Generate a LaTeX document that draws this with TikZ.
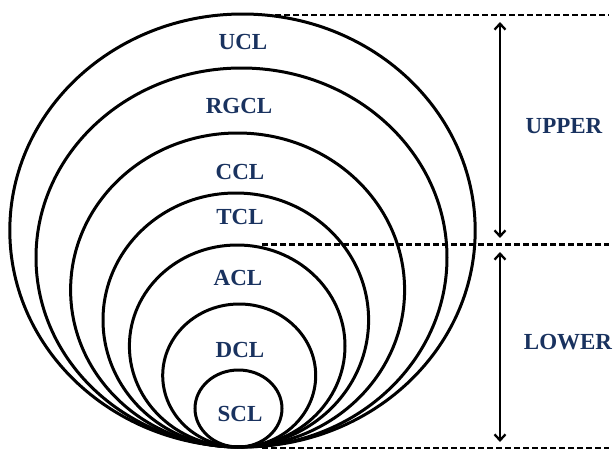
\documentclass[tikz,border=0pt]{standalone}
\usepackage{fontspec}
\setmainfont{Liberation Serif}
\usetikzlibrary{arrows.meta}
\definecolor{navy}{RGB}{25,50,95}
\tikzset{
  layer/.style={draw=black, line width=3pt},
  lbl/.style={text=navy, font=\fontsize{23}{27}\selectfont\bfseries, inner sep=0pt},
  guide/.style={draw=black, line width=2.3pt, dash pattern=on 6pt off 3pt},
  span/.style={draw=black, line width=2.3pt, {Straight Barb[length=6pt,width=11pt,line width=2.3pt]}-{Straight Barb[length=6pt,width=11pt,line width=2.3pt]}}
}
\begin{document}
\begin{tikzpicture}[x=1pt,y=-1pt]
\useasboundingbox (0,0) rectangle (614,450);
% nested layers, all tangent at the bottom
\draw[layer] (242.5,230.5) ellipse [x radius=232.7pt, y radius=216.5pt];
\draw[layer] (241.5,257.5) ellipse [x radius=205.5pt, y radius=189.5pt];
\draw[layer] (237.6,290.0) ellipse [x radius=167pt, y radius=157pt];
\draw[layer] (235.8,320.0) ellipse [x radius=132.8pt, y radius=127pt];
\draw[layer] (237.2,346.0) ellipse [x radius=107.8pt, y radius=101pt];
\draw[layer] (239.2,375.5) ellipse [x radius=76.5pt, y radius=71.5pt];
\draw[layer] (238.5,408.5) ellipse [x radius=43.5pt, y radius=38.5pt];
% labels
\node[lbl] (ucl) at (243,42) {UCL};
\node[lbl] (rgcl) at (239,106) {RGCL};
\node[lbl] (ccl) at (240,172) {CCL};
\node[lbl] (tcl) at (240,217) {TCL};
\node[lbl] (acl) at (238,278) {ACL};
\node[lbl] (dcl) at (240,350) {DCL};
\node[lbl] (scl) at (240,414) {SCL};
\node[lbl] (upper) at (564,126) {UPPER};
\node[lbl] (lower) at (568,342) {LOWER};
% dashed guide lines
\coordinate (t1) at (275,15);
\coordinate (t2) at (609,15);
\coordinate (m1) at (262,244.5);
\coordinate (m2) at (609,244.5);
\coordinate (b1) at (262,448);
\coordinate (b2) at (609,448);
\draw[guide] (t1) -- (t2);
\draw[guide] (m1) -- (m2);
\draw[guide] (b1) -- (b2);
% span arrows
\coordinate (ua) at (500,22);
\coordinate (ub) at (500,238);
\coordinate (la) at (500,252);
\coordinate (lb) at (500,442);
\draw[span] (ua) -- (ub);
\draw[span] (la) -- (lb);
\end{tikzpicture}
\end{document}
